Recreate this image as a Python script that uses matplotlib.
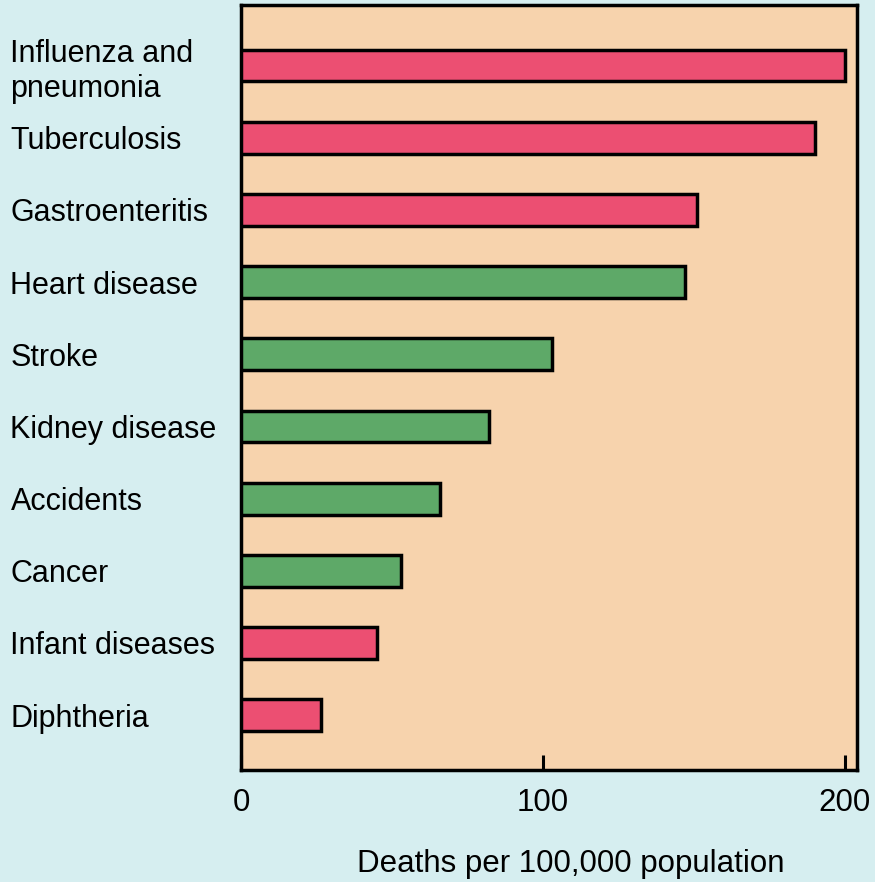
import numpy as np
import matplotlib.pyplot as plt

causes = ['Influenza and\npneumonia', 'Tuberculosis', 'Gastroenteritis', 'Heart disease',
          'Stroke', 'Kidney disease', 'Accidents', 'Cancer', 'Infant diseases', 'Diphtheria']
deaths = [200, 190, 151, 147, 103, 82, 66, 53, 45, 26.5]
groups = ['infectious', 'infectious', 'infectious', 'chronic', 'chronic',
          'chronic', 'chronic', 'chronic', 'infectious', 'infectious']
xticks = [0, 100, 200]

colors = {'infectious': '#ec4f72', 'chronic': '#5ea968'}

plt.rcParams['font.family'] = ['Liberation Sans', 'DejaVu Sans']

fig = plt.figure(figsize=(8.75, 8.82), dpi=100)
fig.patch.set_facecolor('#d6eef0')
ax = fig.add_axes([241/875, 112/882, 616/875, 765/882])
ax.set_facecolor('#f7d3ad')

y = np.arange(len(causes))
ax.barh(y, deaths, height=0.44, color=[colors[g] for g in groups],
        edgecolor='black', linewidth=2.5, zorder=3)

ax.set_xlim(0, 204)
ax.set_ylim(9.76, -0.84)
ax.set_yticks(y)
ax.set_yticklabels(causes, fontsize=22, ha='left', linespacing=1.2)
ax.tick_params(axis='y', length=0, pad=166)
ax.set_xticks(xticks)
ax.set_xticklabels([str(t) for t in xticks], fontsize=22.5)
ax.tick_params(axis='x', direction='in', length=11, width=2.2, pad=13)
ax.set_xlabel('Deaths per 100,000 population', fontsize=22.5, labelpad=22, x=0.535)

for s in ax.spines.values():
    s.set_linewidth(2.5)

fig.savefig('out.png', dpi=100, facecolor=fig.get_facecolor())
